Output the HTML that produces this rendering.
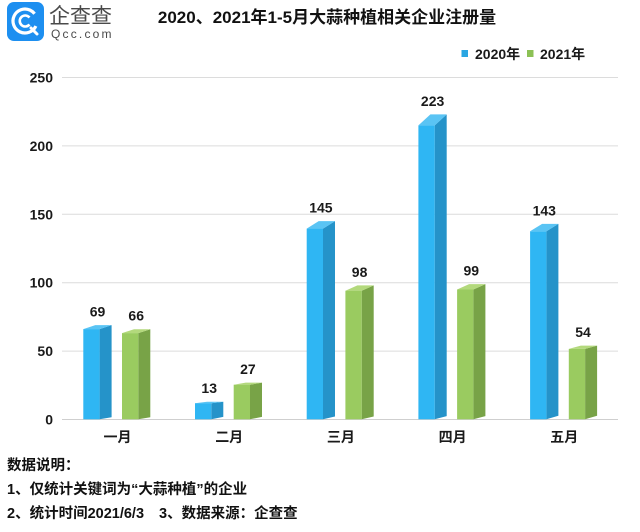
<!DOCTYPE html>
<html><head><meta charset="utf-8"><style>
html,body{margin:0;padding:0;background:#fff;}
body{width:640px;height:532px;overflow:hidden;position:relative;font-family:"Liberation Sans","Noto Sans CJK SC",sans-serif;}
svg{position:absolute;left:0;top:0;}
text{font-family:"Liberation Sans","Noto Sans CJK SC",sans-serif;}
.b{font-weight:bold;fill:#1a1a1a;font-size:14px;}
</style></head><body>
<svg width="640" height="532" viewBox="0 0 640 532" xmlns="http://www.w3.org/2000/svg">
<!-- logo -->
<rect x="7" y="2" width="37" height="39" rx="7" fill="#1d8ff0"/>
<circle cx="25" cy="21" r="12" fill="none" stroke="#fff" stroke-width="3.2" stroke-dasharray="62 14" transform="rotate(25 25 21)"/>
<path d="M29.5 17.5 A5.5 5.5 0 1 0 29.5 24.5" fill="none" stroke="#fff" stroke-width="2.6"/>
<path d="M31 28 L37 34" stroke="#fff" stroke-width="3" stroke-linecap="round"/>
<text x="49" y="23" font-size="21" fill="#4a4a4a" style="font-family:'Noto Sans CJK SC',sans-serif;">企查查</text>
<text x="51" y="38" font-size="12" fill="#4a4a4a" letter-spacing="2.2">Qcc.com</text>
<!-- title -->
<text x="327" y="23" text-anchor="middle" font-size="17" font-weight="bold" fill="#111">2020、2021年1-5月大蒜种植相关企业注册量</text>
<!-- legend -->
<rect x="461.5" y="50" width="6.5" height="7" fill="#2aa6e2"/>
<text x="475" y="59" class="b">2020年</text>
<rect x="527" y="50" width="6.5" height="7" fill="#8cc155"/>
<text x="540" y="59" class="b">2021年</text>
<!-- grid -->
<g stroke="#dcdcdc" stroke-width="1">
<line x1="62" y1="77.5" x2="618" y2="77.5"/>
<line x1="62" y1="145.9" x2="618" y2="145.9"/>
<line x1="62" y1="214.3" x2="618" y2="214.3"/>
<line x1="62" y1="282.7" x2="618" y2="282.7"/>
<line x1="62" y1="351.1" x2="618" y2="351.1"/>
<line x1="62" y1="419.5" x2="618" y2="419.5" stroke="#cfcfcf"/>
</g>
<g class="b" text-anchor="end">
<text x="53" y="82.5">250</text>
<text x="53" y="150.9">200</text>
<text x="53" y="219.3">150</text>
<text x="53" y="287.7">100</text>
<text x="53" y="356.1">50</text>
<text x="53" y="424.5">0</text>
</g>
<!-- bars -->
<g id="bars">
<polygon points="99.6,329.1 111.6,325.1 111.6,417.3 99.6,419.3" fill="#2593c9"/>
<polygon points="83.3,329.1 95.3,325.1 111.6,325.1 99.6,329.1" fill="#5ac4f4"/>
<rect x="83.3" y="329.1" width="16.3" height="90.2" fill="#2fb6f3"/>
<polygon points="138.3,333.1 150.3,329.2 150.3,417.3 138.3,419.3" fill="#78a347"/>
<polygon points="122,333.1 134,329.2 150.3,329.2 138.3,333.1" fill="#b3d97c"/>
<rect x="122" y="333.1" width="16.3" height="86.2" fill="#9acb60"/>
<polygon points="211.3,403.2 223.3,401.7 223.3,416.9 211.3,419.3" fill="#2593c9"/>
<polygon points="195,403.2 207,401.7 223.3,401.7 211.3,403.2" fill="#5ac4f4"/>
<rect x="195" y="403.2" width="16.3" height="16.1" fill="#2fb6f3"/>
<polygon points="250,384.7 262,382.6 262,416.9 250,419.3" fill="#78a347"/>
<polygon points="233.7,384.7 245.7,382.6 262,382.6 250,384.7" fill="#b3d97c"/>
<rect x="233.7" y="384.7" width="16.3" height="34.6" fill="#9acb60"/>
<polygon points="323,228.6 335,221.1 335,416.5 323,419.3" fill="#2593c9"/>
<polygon points="306.7,228.6 318.7,221.1 335,221.1 323,228.6" fill="#5ac4f4"/>
<rect x="306.7" y="228.6" width="16.3" height="190.7" fill="#2fb6f3"/>
<polygon points="361.7,290.7 373.7,285.4 373.7,416.5 361.7,419.3" fill="#78a347"/>
<polygon points="345.4,290.7 357.4,285.4 373.7,285.4 361.7,290.7" fill="#b3d97c"/>
<rect x="345.4" y="290.7" width="16.3" height="128.6" fill="#9acb60"/>
<polygon points="434.7,125.4 446.7,114.4 446.7,416.1 434.7,419.3" fill="#2593c9"/>
<polygon points="418.4,125.4 430.4,114.4 446.7,114.4 434.7,125.4" fill="#5ac4f4"/>
<rect x="418.4" y="125.4" width="16.3" height="293.9" fill="#2fb6f3"/>
<polygon points="473.4,289.5 485.4,284.1 485.4,416.1 473.4,419.3" fill="#78a347"/>
<polygon points="457.1,289.5 469.1,284.1 485.4,284.1 473.4,289.5" fill="#b3d97c"/>
<rect x="457.1" y="289.5" width="16.3" height="129.8" fill="#9acb60"/>
<polygon points="546.4,231.3 558.4,223.9 558.4,415.7 546.4,419.3" fill="#2593c9"/>
<polygon points="530.1,231.3 542.1,223.9 558.4,223.9 546.4,231.3" fill="#5ac4f4"/>
<rect x="530.1" y="231.3" width="16.3" height="188" fill="#2fb6f3"/>
<polygon points="585.1,348.9 597.1,345.6 597.1,415.7 585.1,419.3" fill="#78a347"/>
<polygon points="568.8,348.9 580.8,345.6 597.1,345.6 585.1,348.9" fill="#b3d97c"/>
<rect x="568.8" y="348.9" width="16.3" height="70.4" fill="#9acb60"/>
</g>
<!-- value labels -->
<g class="b" text-anchor="middle">
<text x="97.5" y="316.6">69</text>
<text x="136.2" y="320.7">66</text>
<text x="209.2" y="393.2">13</text>
<text x="247.9" y="374.1">27</text>
<text x="320.9" y="212.6">145</text>
<text x="359.6" y="276.9">98</text>
<text x="432.6" y="105.9">223</text>
<text x="471.3" y="275.6">99</text>
<text x="544.3" y="215.4">143</text>
<text x="583" y="337.1">54</text>
</g>
<!-- category labels -->
<g class="b" text-anchor="middle">
<text x="117.5" y="442">一月</text>
<text x="229.2" y="442">二月</text>
<text x="340.9" y="442">三月</text>
<text x="452.6" y="442">四月</text>
<text x="564.3" y="442">五月</text>
</g>
<!-- footer -->
<g font-size="14.5" font-weight="bold" fill="#111">
<text x="7" y="470">数据说明：</text>
<text x="7" y="494">1、仅统计关键词为“大蒜种植”的企业</text>
<text x="7" y="518">2、统计时间2021/6/3</text>
<text x="159" y="518">3、数据来源：企查查</text>
</g>
</svg>
</body></html>
